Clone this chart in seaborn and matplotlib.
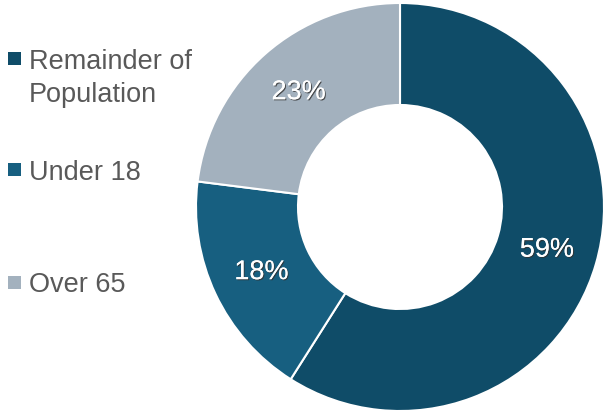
import matplotlib
matplotlib.use("Agg")
import matplotlib.pyplot as plt
import matplotlib.patheffects as pe
from matplotlib.patches import Rectangle
import seaborn as sns

categories = ["Remainder of\nPopulation", "Under 18", "Over 65"]
values = [59, 18, 23]
colors = ["#0f4c68", "#175f80", "#a3b1be"]

sns.set_theme(style="white")
plt.rcParams['font.family'] = ['Liberation Sans', 'DejaVu Sans']

W, H = 603, 411
fig = plt.figure(figsize=(W / 100, H / 100), dpi=100)
cx, cy, r = 400, 207, 204
ax = fig.add_axes([(cx - r) / W, (H - cy - r) / H, 2 * r / W, 2 * r / H])

wedges, texts, autotexts = ax.pie(
    values, colors=colors, startangle=90, counterclock=False,
    autopct=lambda p: f"{p:.0f}%", pctdistance=0.75, radius=1.0,
    wedgeprops=dict(width=0.5, edgecolor="white", linewidth=1.5),
    textprops=dict(color="white", fontsize=19.5),
)
for t in autotexts:
    t.set_path_effects([pe.withSimplePatchShadow(offset=(0.8, -0.8), shadow_rgbFace="#333333", alpha=0.8), pe.Normal()])
ax.set_xlim(-1, 1)
ax.set_ylim(-1, 1)
ax.set_aspect("equal")
ax.axis("off")

# legend
label_y = [59, 170, 282]
for lab, col, y in zip(categories, colors, label_y):
    fig.add_artist(Rectangle((8 / W, 1 - (y + 6.5) / H), 13 / W, 13 / H,
                             transform=fig.transFigure, color=col, lw=0))
    lines = lab.split("\n")
    for i, line in enumerate(lines):
        fig.text(29 / W, 1 - (y + i * 33) / H, line, fontsize=19.5,
                 color="#595959", va="center_baseline", ha="left")

fig.savefig("out.png", dpi=100)
